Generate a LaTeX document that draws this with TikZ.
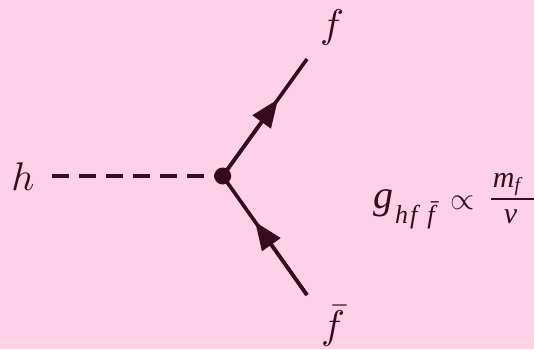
\documentclass[tikz,border=0pt]{standalone}
\usepackage{graphicx}
\usepackage{fontspec}
\newfontfamily\tms{Liberation Serif}
\usetikzlibrary{arrows.meta,calc}
\definecolor{bg}{RGB}{255,209,230}
\definecolor{ink}{RGB}{56,10,30}
\tikzset{
  lbl/.style={inner sep=0pt, text=ink},
  prop/.style={draw=ink, line width=3.6pt},
  scalar/.style={prop, dash pattern=on 16.5pt off 10.5pt},
  tip/.style={prop, -{Triangle[length=28pt,width=22pt]}},
  vtx/.style={circle, fill=ink, inner sep=0pt, minimum size=17pt},
}
\begin{document}
\begin{tikzpicture}[x=1pt,y=-1pt]
\fill[bg] (0,0) rectangle (534,349);
\useasboundingbox (0,0) rectangle (534,349);
\node[lbl] (h) at (23,177) {\scalebox{4}{$h$}};
\coordinate (hs) at (52,176);
\node[vtx] (v) at (222.7,176) {};
\coordinate (ft) at (307,59);
\coordinate (fb) at (307,295);
\node[lbl] (fl) at (332,27) {\scalebox{4}{$f$}};
\node[lbl] (fbl) at (333,326) {\scalebox{4}{$\bar f$}};
\draw[scalar] (hs) -- (v.center);
\draw[prop] (v.center) -- (ft);
\draw[prop] (fb) -- (v.center);
\draw[tip] (v.center) -- ($(v.center)!0.656!(ft)$);
\draw[tip] (fb) -- ($(fb)!0.615!(v.center)$);
\node[anchor=base west, inner sep=0pt, text=ink] (g) at (373,208) {\tms\itshape
  \fontsize{40}{44}\selectfont g\kern2pt
  \raisebox{-15pt}{\fontsize{26}{28}\selectfont h\kern2pt f\kern10pt\={f}}%
  \kern16pt\raisebox{-1.75pt}{\scalebox{3.1}{\fontsize{10}{12}\selectfont$\propto$}}\kern15pt
  \raisebox{6.5pt}{\fontsize{10}{12}\selectfont$\mbox{\makebox[46pt][l]{\rule[-4pt]{0pt}{4pt}\kern2pt\fontsize{30}{32}\selectfont m\raisebox{-4pt}{\fontsize{20}{22}\selectfont f}}}\above 2pt\mbox{\makebox[46pt][l]{\rule{0pt}{21pt}\kern13pt\fontsize{30}{32}\selectfont v}}$}};
\end{tikzpicture}
\end{document}
